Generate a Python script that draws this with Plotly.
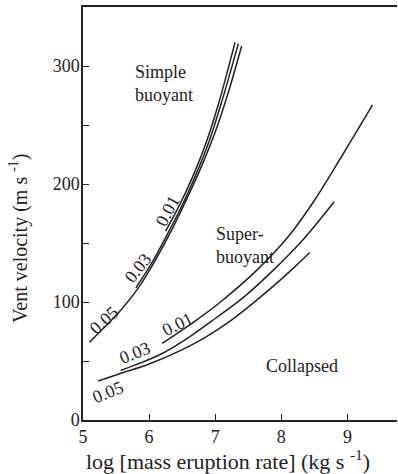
import plotly.graph_objects as go

# Simple-buoyant boundary curves (upper group)
up_x_005 = [5.10, 5.35, 5.60, 5.85, 6.10, 6.35, 6.60, 6.80, 7.00, 7.20, 7.40]
up_y_005 = [66, 80, 95, 113, 136, 162, 191, 216, 244, 278, 317]
up_x_003 = [5.80, 6.05, 6.30, 6.50, 6.70, 6.90, 7.10, 7.35]
up_y_003 = [112, 134, 160, 182, 207, 235, 270, 319]
up_x_001 = [6.25, 6.45, 6.65, 6.85, 7.05, 7.30]
up_y_001 = [160, 181, 205, 233, 268, 320]

# Super-buoyant / collapsed boundary curves (lower group)
lo_x_005 = [5.23, 5.60, 5.98, 6.48, 6.85, 7.23, 7.55, 7.87, 8.15, 8.43]
lo_y_005 = [33, 40, 47, 59, 70, 84, 98, 113, 127, 142]
lo_x_003 = [5.57, 5.90, 6.22, 6.60, 7.00, 7.45, 7.88, 8.30, 8.80]
lo_y_003 = [42, 49, 57, 70, 86, 105, 127, 151, 185]
lo_x_001 = [6.20, 6.70, 7.08, 7.63, 8.10, 8.50, 8.93, 9.38]
lo_y_001 = [65, 84, 100, 127, 155, 186, 225, 267]

curve_labels = ["0.05", "0.03", "0.01", "0.05", "0.03", "0.01"]
label_x = [5.32, 5.83, 6.28, 5.38, 5.78, 6.44]
label_y = [85, 129, 177, 24, 57, 81]
label_angle = [-42, -52, -62, -22, -22, -26]

x_ticks = [5, 6, 7, 8, 9]
y_ticks = [0, 100, 200, 300]

region_text = ["Simple<br>buoyant", "Super-<br>buoyant", "Collapsed"]
region_x = [5.75, 6.98, 8.32]
region_y = [285, 148, 46]

x_title = "log [mass eruption rate] (kg s <sup>-1</sup>)"
y_title = "Vent velocity (m s <sup>-1</sup>)"

FONT = "Liberation Serif"
LC = "#222222"

fig = go.Figure()
for xs, ys in [(up_x_005, up_y_005), (up_x_003, up_y_003), (up_x_001, up_y_001),
               (lo_x_005, lo_y_005), (lo_x_003, lo_y_003), (lo_x_001, lo_y_001)]:
    fig.add_trace(go.Scatter(x=xs, y=ys, mode="lines",
                             line=dict(color=LC, width=1.5, shape="spline", smoothing=1.0),
                             showlegend=False, hoverinfo="skip"))

for t, x, y, a in zip(curve_labels, label_x, label_y, label_angle):
    fig.add_annotation(x=x, y=y, text=t, textangle=a, showarrow=False,
                       font=dict(family=FONT, size=18, color=LC))

for t, x, y in zip(region_text, region_x, region_y):
    fig.add_annotation(x=x, y=y, text=t, showarrow=False,
                       xanchor="left" if t != "Collapsed" else "center",
                       align="left", font=dict(family=FONT, size=18, color=LC))

# axis titles as annotations (offset like the reference)
fig.add_annotation(xref="paper", yref="paper", x=0.462, y=-0.096, text=x_title,
                   showarrow=False, yanchor="middle", borderpad=0,
                   font=dict(family=FONT, size=22, color=LC))
fig.add_annotation(xref="paper", yref="paper", x=-0.205, y=0.44, text=y_title,
                   textangle=-90, showarrow=False, xanchor="center", borderpad=0,
                   font=dict(family=FONT, size=20, color=LC))

fig.update_layout(
    width=398, height=474,
    margin=dict(l=83, r=1, t=7, b=54),
    paper_bgcolor="white", plot_bgcolor="white",
    font=dict(family=FONT, size=18, color=LC),
    xaxis=dict(range=[5, 9.75], tickvals=x_ticks, ticks="inside", ticklen=6,
               tickcolor=LC, showline=True, linecolor=LC, linewidth=1.5, mirror=True,
               showgrid=False, zeroline=False, ticklabelstandoff=0,
               tickfont=dict(family=FONT, size=18)),
    yaxis=dict(range=[0, 350], tickvals=y_ticks, ticks="inside", ticklen=6,
               tickcolor=LC, showline=True, linecolor=LC, linewidth=1.5, mirror=False,
               showgrid=False, zeroline=False, ticklabelstandoff=-2,
               tickfont=dict(family=FONT, size=18),
               minor=dict(tickvals=[50, 150, 250], ticks="inside", ticklen=6, tickcolor=LC)),
)

fig.write_html("out.html")
